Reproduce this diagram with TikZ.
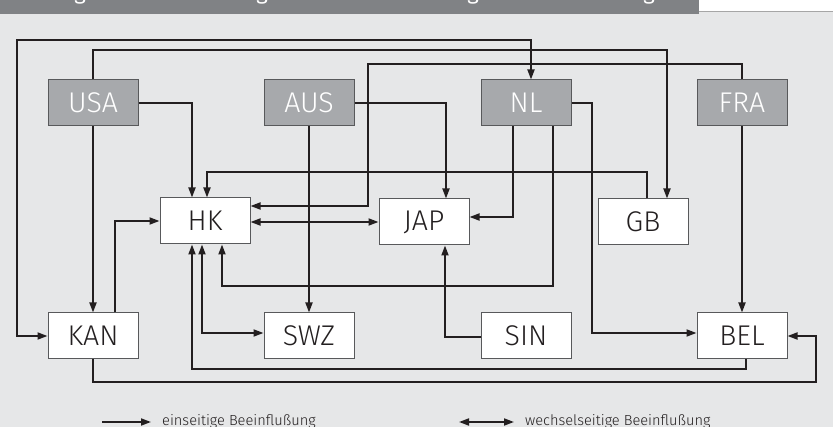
\documentclass[tikz,border=0pt]{standalone}
\usepackage{fontspec}
\setmainfont{Fira Sans}
\IfFontExistsTF{Fira Sans Book}{\newfontfamily\boxfont{Fira Sans Book}}{%
  \IfFontExistsTF{Fira Sans Light}{\newfontfamily\boxfont{Fira Sans Light}}{\newfontfamily\boxfont{Fira Sans}}}
\usetikzlibrary{arrows.meta}
\definecolor{bg}{HTML}{E6E7E8}
\definecolor{band}{HTML}{808285}
\definecolor{boxgray}{HTML}{A7A9AC}
\definecolor{boxline}{HTML}{58595B}
\definecolor{ink}{HTML}{231F20}
\tikzset{
  country/.style={draw=boxline, line width=1pt, minimum width=90pt, minimum height=46pt, inner sep=0pt, font=\boxfont\fontsize{28.5}{28.5}\selectfont},
  src/.style={country, fill=boxgray, text=white},
  tgt/.style={country, fill=white, text=ink},
  conn/.style={draw=ink, line width=1.8pt, line join=miter},
  tip/.tip={Triangle[length=10pt,width=7pt]},
  leg/.style={text=ink, font=\boxfont\fontsize{14.6}{14.6}\selectfont, inner sep=0pt},
}
\begin{document}
\begin{tikzpicture}[x=1pt,y=-1pt]
\useasboundingbox (0,0) rectangle (833,427);
\fill[bg] (0,0) rectangle (833,427);
% top band
\fill[band] (0,0) rectangle (699,14);
\draw[draw=white!80!band, line width=0.8pt] (0,14.4) -- (699,14.4);
\fill[white] (699,0) rectangle (833,11);
\draw[draw=black!35, line width=1pt] (699,11.5) -- (833,11.5);
\begin{scope}
\clip (0,0) rectangle (699,14);
\foreach \gx/\gn in {80/ga,262/gb,473/gc,649/gd}
  \node[text=white, anchor=base, inner sep=0pt, font=\fontsize{22}{22}\selectfont] (\gn) at (\gx,-0.5) {g};
\end{scope}
% nodes
\node[src] (USA) at (93,103) {USA};
\node[src] (AUS) at (309,103) {AUS};
\node[src] (NL)  at (526,103) {NL};
\node[src] (FRA) at (742,103) {FRA};
\node[tgt] (HK)  at (205,221) {HK};
\node[tgt] (JAP) at (424,222) {JAP};
\node[tgt] (GB)  at (643,222) {GB};
\node[tgt] (KAN) at (93,336) {KAN};
\node[tgt] (SWZ) at (309,336) {SWZ};
\node[tgt] (SIN) at (526,336) {SIN};
\node[tgt] (BEL) at (742,336) {BEL};
% connectors
\draw[conn, {tip}-{tip}] (KAN.west) -| (17,40) -| (NL.north -| 531,0);
\draw[conn, -{tip}] (USA.north) -- (USA.north |- 0,50) -| (GB.north -| 667,0);
\draw[conn, -{tip}] (USA.east) -| (HK.north -| 192,0);
\draw[conn, -{tip}] (USA.south) -- (KAN.north);
\draw[conn, -{tip}] (KAN.north -| 115,0) |- (HK.west);
\draw[conn, -{tip}] (KAN.south) |- (816,382) |- (BEL.east);
\draw[conn, -{tip}] (AUS.east) -| (JAP.north -| 446,0);
\draw[conn, -{tip}] (AUS.south) -- (SWZ.north);
\draw[conn, -{tip}] (FRA.north) |- (368,64) |- (HK.east |- 0,206);
\draw[conn, -{tip}] (FRA.south) -- (BEL.north);
\draw[conn, -{tip}] (GB.north -| 647,0) |- (207,172) -- (HK.north -| 207,0);
\draw[conn, {tip}-{tip}] (HK.east |- 0,222) -- (JAP.west |- 0,222);
\draw[conn, -{tip}] (NL.south -| 513,0) |- (JAP.east |- 0,217);
\draw[conn, -{tip}] (NL.east) -| (592,333) -- (BEL.west |- 0,333);
\draw[conn, -{tip}] (NL.south -| 553,0) |- (222,286) -- (HK.south -| 222,0);
\draw[conn, {tip}-{tip}] (HK.south -| 202,0) |- (SWZ.west |- 0,333);
\draw[conn, -{tip}] (BEL.south -| 746,0) |- (192,369) -- (HK.south -| 192,0);
\draw[conn, -{tip}] (SIN.west |- 0,337) -| (JAP.south -| 445,0);
% legend
\coordinate (la1) at (102,422);
\coordinate (lb1) at (151,422);
\draw[conn, -{tip}] (la1) -- (lb1);
\node[leg, anchor=base west] (lt1) at (162,425.8) {einseitige Beeinflußung};
\coordinate (la2) at (459,422);
\coordinate (lb2) at (514,422);
\draw[conn, {tip}-{tip}] (la2) -- (lb2);
\node[leg, anchor=base west] (lt2) at (525,425.8) {wechselseitige Beeinflußung};
\end{tikzpicture}
\end{document}
